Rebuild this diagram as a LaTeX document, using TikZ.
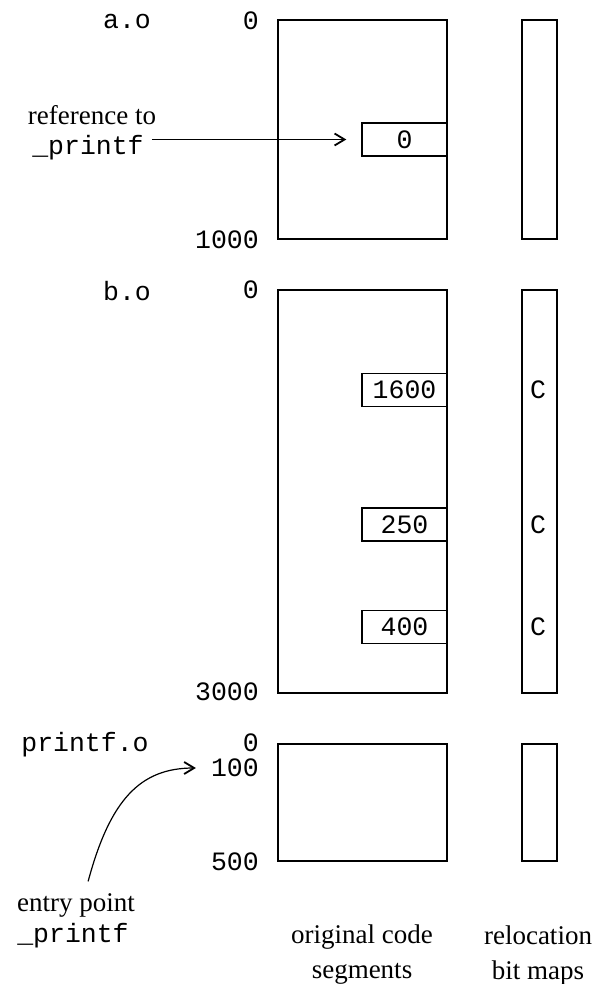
\documentclass[tikz,border=0pt]{standalone}
\usepackage{fontspec}
\setmainfont{Liberation Serif}
\setmonofont{Liberation Mono}
\usetikzlibrary{arrows.meta}

\newcommand{\ttlabel}{\fontsize{26.5}{30}\selectfont\ttfamily}
\newcommand{\rmlabel}{\fontsize{27}{35}\selectfont\rmfamily}

\begin{document}
\begin{tikzpicture}[
        x=1pt,
        y=-1pt,
        segment/.style={
            rectangle,
            draw,
            line width=1.4pt,
            inner sep=0pt,
            minimum width=169pt
        },
        bitmap/.style={
            rectangle,
            draw,
            line width=1.4pt,
            inner sep=0pt,
            minimum width=35pt
        },
        slot/.style={
            rectangle,
            draw,
            fill=white,
            line width=1.4pt,
            inner sep=0pt,
            minimum width=85pt,
            minimum height=33pt,
            font=\ttlabel
        },
        offset/.style={
            anchor=east,
            inner sep=0pt,
            font=\ttlabel
        },
        file/.style={
            inner sep=0pt,
            font=\ttlabel
        },
        caption/.style={
            align=center,
            inner sep=0pt,
            font=\rmlabel
        },
        arrow/.style={
            -{Straight Barb[length=10pt,width=12pt,line width=1.8pt]},
            line width=1.2pt
        }
    ]

        \useasboundingbox (0,0) rectangle (599,984);

        % a.o
        \node[file] (aname) at (127,22) {a.o};
        \node[offset] (atop) at (259,21) {0};
        \node[offset] (aend) at (259,240) {1000};
        \node[segment, minimum height=219pt] (asegment) at (362.5,129.5) {};
        \node[bitmap, minimum height=219pt] (amap) at (539.5,129.5) {};
        \node[slot] (aref) at (404.5,139.5) {0};
        \node[caption] (refto) at (92,115) {reference to};
        \node[file] (refname) at (88,148) {\_printf};

        % b.o
        \node[file] (bname) at (127,291) {b.o};
        \node[offset] (btop) at (259,290) {0};
        \node[offset] (bend) at (259,692) {3000};
        \node[segment, minimum height=403pt] (bsegment) at (362.5,491.5) {};
        \node[bitmap, minimum height=403pt] (bmap) at (539.5,491.5) {};
        \node[slot] (bfirst) at (404.5,390) {1600};
        \node[slot] (bsecond) at (404.5,524.5) {250};
        \node[slot] (bthird) at (404.5,627) {400};
        \node[file] (cfirst) at (538,390) {C};
        \node[file] (csecond) at (538,524.5) {C};
        \node[file] (cthird) at (538,627) {C};

        % printf.o
        \node[file] (pname) at (85,745) {printf.o};
        \node[offset] (ptop) at (259,743) {0};
        \node[offset] (pentry) at (259,768) {100};
        \node[offset] (pend) at (259,862) {500};
        \node[segment, minimum height=117pt] (psegment) at (362.5,802.5) {};
        \node[bitmap, minimum height=117pt] (pmap) at (539.5,802.5) {};
        \node[caption] (entry) at (76,905) {entry point};
        \node[file] (entryname) at (73,936) {\_printf};

        % captions
        \node[caption] (codecap) at (362,955) {original code\\segments};
        \node[caption] (mapcap) at (538,955) {relocation\\bit maps};

        \draw[arrow, shorten <=8pt, shorten >=15pt] (refname.east |- aref.west) -- (aref.west);
        \draw[arrow, shorten <=12pt, shorten >=15pt] ([xshift=9pt]entry.north)
            .. controls (110,800) and (140,768) .. (pentry.west);

    \end{tikzpicture}
\end{document}
